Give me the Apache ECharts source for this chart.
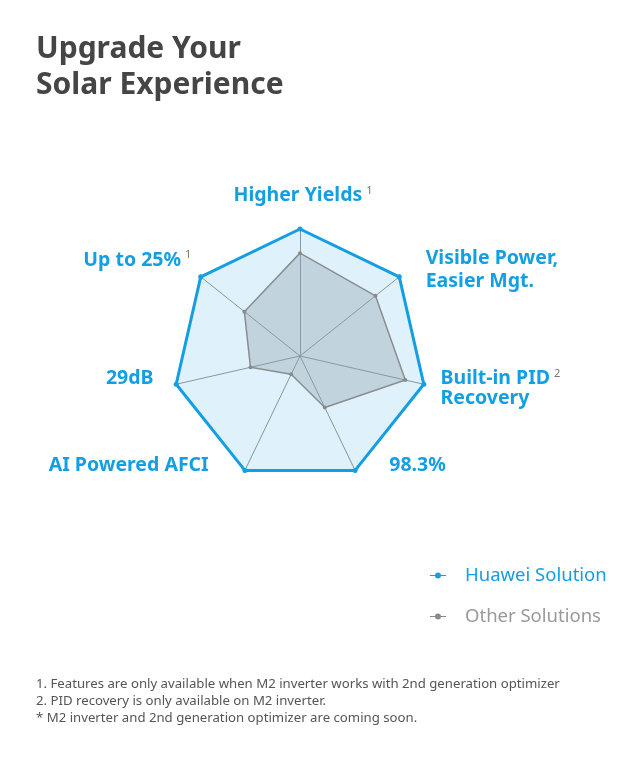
<!DOCTYPE html>
<html>
<head>
<meta charset="utf-8">
<script src="https://cdn.jsdelivr.net/npm/echarts@6/dist/echarts.min.js"></script>
<style>
html,body{margin:0;padding:0;background:#fff;}
#chart{width:640px;height:766px;}
</style>
</head>
<body>
<div id="chart"></div>
<script>
// ---- data ----
const indicatorNames = ['Higher Yields', 'Up to 25%', '29dB', 'AI Powered AFCI', '98.3%', 'Built-in PID\nRecovery', 'Visible Power,\nEasier Mgt.'];
const superscripts   = ['1', '1', '', '', '', '2', ''];
const indicatorMax   = 100;
const huaweiValues   = [100, 100, 100, 100, 100, 100, 100];
const otherValues    = [81, 56, 40, 16, 45, 85, 76];
const seriesNames    = ['Huawei Solution', 'Other Solutions'];
const titleLines     = ['Upgrade Your', 'Solar Experience'];
const footnotes      = [
  '1. Features are only available when M2 inverter works with 2nd generation optimizer',
  '2. PID recovery is only available on M2 inverter.',
  '* M2 inverter and 2nd generation optimizer are coming soon.'
];

// ---- styles ----
const BLUE = '#139fe2';
const FONT = '"Noto Sans", "Open Sans", sans-serif';
// per-label layout nudges: padding [top, right, bottom, left] and line height
const labelLayout = [
  {pad: [0, 0, 11, 6],  lh: 20},  // Higher Yields
  {pad: [0, 0, 18, 0],  lh: 20},  // Up to 25%
  {pad: [0, 11, 16, 0], lh: 20},  // 29dB
  {pad: [0, 31, 32, 0], lh: 20},  // AI Powered AFCI
  {pad: [0, 0, 32, 29], lh: 20},  // 98.3%
  {pad: [3, 0, 0, 5],   lh: 20},  // Built-in PID Recovery
  {pad: [4, 0, 0, 17],  lh: 25}   // Visible Power, Easier Mgt.
];

const rich = {};
const idxByName = {};
indicatorNames.forEach((name, i) => {
  idxByName[name] = i;
  const lines = name.split('\n');
  const L = labelLayout[i];
  const sup = superscripts[i];
  lines.forEach((l, j) => {
    const isFirst = j === 0, isLast = j === lines.length - 1;
    const hasSup = isFirst && !!sup;
    rich['t' + i + '_' + j] = {
      fontFamily: FONT, fontSize: 19.5, fontWeight: 'bold', color: BLUE, lineHeight: L.lh,
      padding: [isFirst ? L.pad[0] : 0, hasSup ? 0 : L.pad[1], isLast ? L.pad[2] : 0, L.pad[3]]
    };
  });
  if (sup) {
    rich['s' + i] = {
      fontFamily: FONT, fontSize: 11, color: '#777',
      padding: [L.pad[0], L.pad[1], 10 + (lines.length === 1 ? L.pad[2] : 0), 4]
    };
  }
});

const chart = echarts.init(document.getElementById('chart'), null, {renderer: 'canvas'});

const iconPath = 'path://M0,2.4 L16,2.4 L16,3.6 L0,3.6 Z M8,0 A3,3 0 1 1 7.99,0 Z';

const option = {
  backgroundColor: '#fff',
  animation: false,
  title: {
    text: titleLines.join('\n'),
    left: 31,
    top: 26,
    textStyle: {
      fontFamily: FONT,
      fontSize: 30,
      fontWeight: 'bold',
      color: '#454545',
      lineHeight: 36
    }
  },
  legend: {
    orient: 'vertical',
    left: 425,
    top: 561,
    itemGap: 22,
    itemWidth: 16,
    itemHeight: 6,
    icon: iconPath,
    data: [
      {name: seriesNames[0], textStyle: {color: BLUE}},
      {name: seriesNames[1], textStyle: {color: '#9a9a9a'}}
    ],
    textStyle: {fontFamily: FONT, fontSize: 18.5, padding: [0, 0, 0, 14]}
  },
  radar: {
    center: [300, 356],
    radius: 127,
    startAngle: 90,
    splitNumber: 1,
    shape: 'polygon',
    nameGap: 12,
    axisLine: {lineStyle: {color: '#979797', width: 1}},
    splitLine: {show: false},
    splitArea: {show: false},
    axisName: {
      formatter: function (name) {
        const i = idxByName[name];
        const lines = name.split('\n');
        const sup = superscripts[i];
        return lines.map((l, j) => '{t' + i + '_' + j + '|' + l + '}' + (j === 0 && sup ? '{s' + i + '|' + sup + '}' : '')).join('\n');
      },
      rich: rich
    },
    indicator: indicatorNames.map(n => ({name: n, max: indicatorMax}))
  },
  series: [{
    type: 'radar',
    data: [
      {
        name: seriesNames[0],
        value: huaweiValues,
        symbol: 'circle',
        symbolSize: 5,
        lineStyle: {color: BLUE, width: 3},
        itemStyle: {color: BLUE},
        areaStyle: {color: 'rgba(26,159,224,0.2)'}
      },
      {
        name: seriesNames[1],
        value: otherValues,
        symbol: 'circle',
        symbolSize: 4,
        lineStyle: {color: '#8a8a8a', width: 1.5},
        itemStyle: {color: '#8a8a8a'},
        areaStyle: {color: 'rgba(140,158,170,0.5)'}
      }
    ]
  }],
  graphic: footnotes.map((t, i) => ({
    type: 'text',
    left: 36,
    top: 678 + i * 17,
    style: {text: t, fontFamily: FONT, fontSize: 13.2, fill: '#555'}
  }))
};
chart.setOption(option);
</script>
</body>
</html>
